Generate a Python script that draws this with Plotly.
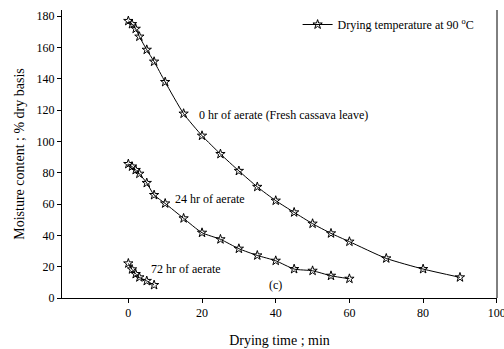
import plotly.graph_objects as go

t0 = [0, 1, 2, 3, 5, 7, 10, 15, 20, 25, 30, 35, 40, 45, 50, 55, 60, 70, 80, 90]
m0 = [177, 175, 172, 167, 158.6, 151, 138, 117.8, 103.7, 92, 81.2, 71, 62.2, 54.7, 47.5, 41.3, 36, 25.3, 18.5, 13.2]
t24 = [0, 1, 2, 3, 5, 7, 10, 15, 20, 25, 30, 35, 40, 45, 50, 55, 60]
m24 = [85.6, 84, 81.8, 79.4, 73.5, 65.8, 60.4, 50.9, 41.7, 37.5, 31.5, 27.2, 23.8, 18.5, 17.4, 14.2, 12.3]
t72 = [0, 1, 2, 3, 5, 7]
m72 = [22.1, 18.3, 15.3, 13.2, 10.9, 8.3]

x_ticks = [0, 20, 40, 60, 80, 100]
y_ticks = [0, 20, 40, 60, 80, 100, 120, 140, 160, 180]

FONT = "'Liberation Serif', 'Times New Roman', serif"
marker = dict(symbol="star-open", size=7, color="black", line=dict(width=1, color="black"))
line = dict(color="black", width=1, shape="spline", smoothing=0.6)

fig = go.Figure()
fig.add_trace(go.Scatter(x=t0, y=m0, mode="lines+markers", marker=marker, line=line,
                         name="Drying temperature at 90 <sup>o</sup>C", showlegend=True))
fig.add_trace(go.Scatter(x=t24, y=m24, mode="lines+markers", marker=marker, line=line, showlegend=False))
fig.add_trace(go.Scatter(x=t72, y=m72, mode="lines+markers", marker=marker, line=line, showlegend=False))

ann_font = dict(family=FONT, size=12, color="black")
fig.add_annotation(x=18.5, y=117, text="0 hr of aerate (Fresh cassava leave)", showarrow=False,
                   xanchor="left", yanchor="middle", font=ann_font)
fig.add_annotation(x=12, y=63.5, text="24 hr of aerate", showarrow=False,
                   xanchor="left", yanchor="middle", font=ann_font)
fig.add_annotation(x=5.6, y=18.5, text="72 hr of aerate", showarrow=False,
                   xanchor="left", yanchor="middle", font=ann_font)
fig.add_annotation(x=40, y=8.5, text="(c)", showarrow=False,
                   xanchor="center", yanchor="middle", font=ann_font)

fig.update_layout(
    width=504, height=349,
    margin=dict(l=62, r=7, t=10, b=51),
    paper_bgcolor="white", plot_bgcolor="white",
    font=dict(family=FONT, size=12, color="black"),
    legend=dict(x=0.96, y=1.0, xanchor="right", yanchor="top", bgcolor="rgba(0,0,0,0)",
                font=dict(family=FONT, size=12), itemwidth=30),
)
fig.update_xaxes(range=[-18, 100.05], tickvals=x_ticks, showgrid=False, zeroline=False,
                 showline=True, linecolor="black", linewidth=1, ticks="outside", ticklen=4,
                 tickcolor="black", tickfont=dict(family=FONT, size=12), ticklabeloverflow="allow",
                 automargin=False,
                 title=dict(text="Drying time ; min", font=dict(family=FONT, size=14), standoff=15))
fig.update_yaxes(range=[0, 184], tickvals=y_ticks, showgrid=False, zeroline=False,
                 showline=True, linecolor="black", linewidth=1, ticks="outside", ticklen=4,
                 tickcolor="black", tickfont=dict(family=FONT, size=12), automargin=False,
                 title=dict(text="Moisture content ; % dry basis", font=dict(family=FONT, size=14), standoff=8))
fig.add_shape(type="line", xref="paper", yref="paper", x0=1, x1=1, y0=0, y1=1,
              line=dict(color="black", width=1))

fig.write_html("out.html")
